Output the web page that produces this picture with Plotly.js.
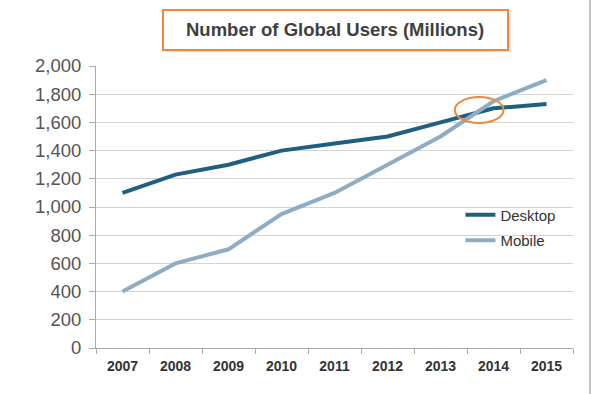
<!DOCTYPE html>
<html>
<head>
<meta charset="utf-8">
<script src="https://cdn.plot.ly/plotly-3.0.1.min.js"></script>
<style>html,body{margin:0;padding:0;background:#fff;}#chart{width:592px;height:394px;}</style>
</head>
<body>
<div id="chart"></div>
<script>
const years = ["2007","2008","2009","2010","2011","2012","2013","2014","2015"];
const desktop = [1100,1230,1300,1400,1450,1500,1600,1700,1730];
const mobile = [400,600,700,950,1100,1300,1500,1750,1900];
const titleText = "Number of Global Users (Millions)";
const yTicks = [0,200,400,600,800,1000,1200,1400,1600,1800,2000];

const traces = [
  {x: years, y: desktop, name: "Desktop", type: "scatter", mode: "lines",
   line: {color: "#1f5f80", width: 4}, legendgroup: "a"},
  {x: years, y: mobile, name: "Mobile", type: "scatter", mode: "lines",
   line: {color: "#8eadc5", width: 4}, legendgroup: "b"}
];

const layout = {
  width: 592, height: 394,
  margin: {l: 96, r: 19, t: 66, b: 46},
  paper_bgcolor: "#fff", plot_bgcolor: "#fff",
  font: {family: "Liberation Sans, Arial, sans-serif", color: "#444"},
  showlegend: true,
  legend: {x: 0.764, y: 0.53, xanchor: "left", yanchor: "top",
           font: {size: 15, color: "#333"}, bgcolor: "rgba(0,0,0,0)",
           traceorder: "grouped", tracegroupgap: 3},
  xaxis: {type: "category", range: [-0.5, 8.5], showline: true, linecolor: "#aaa", linewidth: 1,
          ticks: "outside", tickson: "boundaries", ticklen: 5, tickcolor: "#aaa",
          showgrid: false, zeroline: false, ticklabelstandoff: 5,
          tickfont: {size: 14, color: "#333", family: "Liberation Sans, Arial, sans-serif", weight: "bold"}},
  yaxis: {range: [0, 2000], tickvals: yTicks, tickformat: ",d", showline: true, linecolor: "#aaa", linewidth: 1,
          ticks: "outside", ticklen: 6, tickcolor: "#aaa", gridcolor: "#d4d4d4", gridwidth: 1,
          zeroline: false, ticklabelstandoff: 4, tickfont: {size: 18.5, color: "#555"}},
  shapes: [
    {type: "rect", xref: "paper", yref: "paper", x0: 0.1468, x1: 0.870, y0: 1.049, y1: 1.191,
     line: {width: 0}, fillcolor: "rgba(0,0,0,0.12)", layer: "above"},
    {type: "rect", xref: "paper", yref: "paper", x0: 0.1405, x1: 0.8637, y0: 1.0567, y1: 1.1986,
     line: {color: "#ec8a3c", width: 2}, fillcolor: "#fff", layer: "above"},
    {type: "circle", xref: "x", yref: "y", x0: 6.27, x1: 7.19, y0: 1596, y1: 1780,
     line: {color: "#ee8a35", width: 2}, layer: "above"},
    {type: "line", xref: "paper", yref: "paper", x0: 1.0356, x1: 1.0356, y0: -0.17, y1: 1.24,
     line: {color: "#c4c4c4", width: 2}}
  ],
  annotations: [
    {xref: "paper", yref: "paper", x: 0.502, y: 1.128, xanchor: "center", yanchor: "middle",
     text: "<b>" + titleText + "</b>", showarrow: false,
     font: {size: 18.5, color: "#3f3f3f", family: "Liberation Sans, Arial, sans-serif"}}
  ]
};

Plotly.newPlot("chart", traces, layout, {displayModeBar: false, staticPlot: true});
</script>
</body>
</html>
